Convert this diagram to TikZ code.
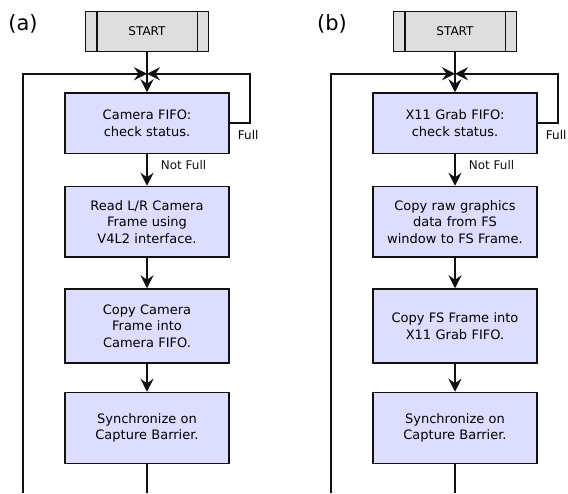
\documentclass[tikz,border=0pt]{standalone}
\usepackage{fontspec}
\setmainfont{DejaVu Sans}
\usetikzlibrary{arrows.meta, positioning}
\definecolor{stepfill}{HTML}{DDDDFF}
\definecolor{startfill}{HTML}{DEDEDE}
\definecolor{linecol}{HTML}{111111}
\tikzset{
    task/.style={
        rectangle, draw=linecol, fill=stepfill,
        line width=1.5pt, minimum width=164pt,
        minimum height=#1, text width=155pt,
        align=center, inner sep=0pt,
        font=\fontsize{13}{16.6}\selectfont
    },
    task/.default={60.5pt},
    start box/.style={
        rectangle, draw=linecol, fill=startfill,
        line width=1.5pt, minimum width=123pt,
        minimum height=40pt, inner sep=0pt,
        font=\fontsize{12}{14}\selectfont
    },
    flow/.style={
        -{Stealth[length=13pt, width=13pt, inset=4.5pt]},
        line width=1.7pt, color=linecol
    },
    wire/.style={line width=1.7pt, color=linecol},
    bar/.style={line width=1.5pt, color=linecol},
    branch label/.style={font=\fontsize{12}{14}\selectfont, inner sep=1pt},
    panel label/.style={font=\fontsize{21}{25}\selectfont, inner sep=0pt},
}

\begin{document}
\begin{tikzpicture}[x=1pt, y=1pt]
    \useasboundingbox (0,0) rectangle (568,-493);

    % (a) camera capture thread
    \node[panel label] (labA) at (23,-24) {(a)};
    \node[start box] (startA) at (147,-31.5) {START};
    \draw[bar] ([xshift=12pt]startA.north west) -- ([xshift=12pt]startA.south west);
    \draw[bar] ([xshift=-12pt]startA.north east) -- ([xshift=-12pt]startA.south east);

    \node[task, below=40pt of startA] (fifoA) {Camera FIFO:\\check status.};
    \node[task=70.5pt, below=31.5pt of fifoA] (readA) {Read L/R Camera\\Frame using\\V4L2 interface.};
    \node[task=74pt, below=30.5pt of readA] (copyA) {Copy Camera\\Frame into\\Camera FIFO.};
    \node[task=71pt, below=28pt of copyA] (syncA) {Synchronize on\\Capture Barrier.};

    \coordinate[below=21.5pt of startA] (joinA);
    \coordinate[right=20pt of fifoA.east] (fullA);
    \coordinate (backA) at (23,-493);
    \coordinate (endA) at (syncA |- backA);

    \draw[flow] (startA) -- (fifoA);
    \draw[flow] (fifoA.east) -- (fullA) |- (joinA);
    \node[branch label, anchor=north west] (fullLabA) at ([xshift=7pt, yshift=-6pt]fifoA.east) {Full};
    \draw[flow] (fifoA) -- (readA)
        node[branch label, pos=0.35, anchor=west, xshift=12pt] (notFullA) {Not Full};
    \draw[flow] (readA) -- (copyA);
    \draw[flow] (copyA) -- (syncA);
    \draw[wire] (syncA) -- (endA);
    \draw[flow] (backA) |- (joinA);

    % (b) X11 grab thread
    \begin{scope}[xshift=308pt]
    \node[panel label] (labB) at (24,-24) {(b)};
    \node[start box] (startB) at (147,-31.5) {START};
    \draw[bar] ([xshift=12pt]startB.north west) -- ([xshift=12pt]startB.south west);
    \draw[bar] ([xshift=-12pt]startB.north east) -- ([xshift=-12pt]startB.south east);

    \node[task, below=40pt of startB] (fifoB) {X11 Grab FIFO:\\check status.};
    \node[task=70.5pt, below=31.5pt of fifoB] (readB) {Copy raw graphics\\data from FS\\window to FS Frame.};
    \node[task=74pt, below=30.5pt of readB] (copyB) {Copy FS Frame into\\X11 Grab FIFO.};
    \node[task=71pt, below=28pt of copyB] (syncB) {Synchronize on\\Capture Barrier.};

    \coordinate[below=21.5pt of startB] (joinB);
    \coordinate[right=20pt of fifoB.east] (fullB);
    \coordinate (backB) at (23,-493);
    \coordinate (endB) at (syncB |- backB);

    \draw[flow] (startB) -- (fifoB);
    \draw[flow] (fifoB.east) -- (fullB) |- (joinB);
    \node[branch label, anchor=north west] (fullLabB) at ([xshift=7pt, yshift=-6pt]fifoB.east) {Full};
    \draw[flow] (fifoB) -- (readB)
        node[branch label, pos=0.35, anchor=west, xshift=12pt] (notFullB) {Not Full};
    \draw[flow] (readB) -- (copyB);
    \draw[flow] (copyB) -- (syncB);
    \draw[wire] (syncB) -- (endB);
    \draw[flow] (backB) |- (joinB);
    \end{scope}
\end{tikzpicture}
\end{document}
